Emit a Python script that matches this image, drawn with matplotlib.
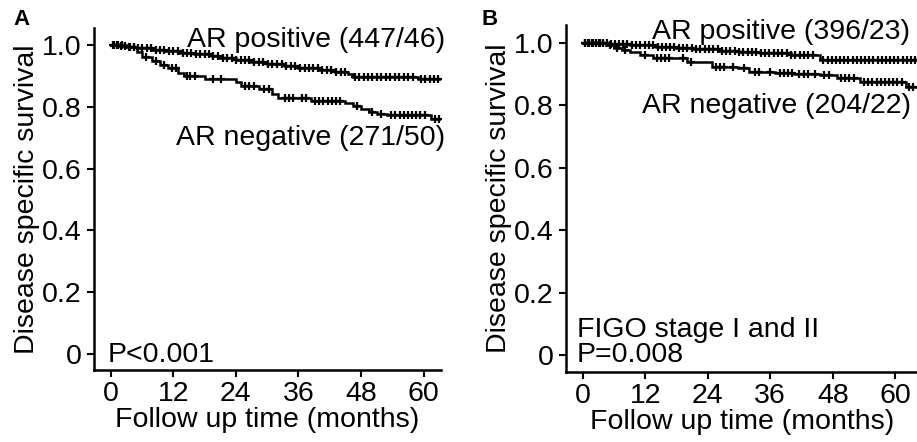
import matplotlib
matplotlib.use("Agg")
import matplotlib.pyplot as plt

plt.rcParams['font.family'] = ['Liberation Sans', 'DejaVu Sans']

# ---- Panel A data (Kaplan-Meier step curves) ----
a_pos_t = [0, 1.5, 3.5, 5, 8, 10.5, 13, 16, 19.5, 21, 24, 27, 30, 33.5, 36, 40, 43, 45.5, 46.5, 59, 63.3]
a_pos_s = [1.0, 0.997, 0.993, 0.989, 0.985, 0.980, 0.975, 0.970, 0.964, 0.957, 0.951, 0.945,
           0.938, 0.931, 0.925, 0.919, 0.914, 0.905, 0.895, 0.889, 0.889]
a_pos_cens = [0.5, 1.2, 2.0, 2.8, 3.6, 4.4, 5.3, 6.1, 7.0, 7.8, 8.7, 9.5, 10.3, 11.2, 12.0, 12.9,
              13.8, 14.6, 15.5, 16.3, 17.2, 18.0, 18.8, 19.7, 20.6, 21.5, 22.3, 23.2, 24.1, 25.0,
              25.8, 26.6, 27.5, 28.4, 29.3, 30.1, 31.0, 31.9, 32.8, 33.7, 34.5, 35.4, 36.3, 37.2,
              38.0, 38.9, 39.8, 40.6, 41.5, 42.3, 43.2, 44.1, 45.0, 46.8, 47.7, 48.5, 49.4, 50.2,
              51.1, 51.9, 52.8, 53.6, 54.5, 55.3, 56.2, 57.0, 57.9, 59.5, 60.3, 61.2, 62.0, 62.8]

a_neg_t = [0, 3, 5, 6, 8, 9.5, 11, 13, 14, 18, 24, 25, 28.5, 31, 32, 38.5, 45, 46.5, 48, 49.5, 51, 53,
           61.5, 63.3]
a_neg_s = [1.0, 0.993, 0.978, 0.960, 0.948, 0.936, 0.925, 0.910, 0.898, 0.890, 0.880, 0.867, 0.858,
           0.840, 0.827, 0.818, 0.811, 0.803, 0.793, 0.782, 0.777, 0.772, 0.762, 0.762]
a_neg_cens = [0.6, 1.4, 2.2, 3.8, 4.5, 6.8, 8.6, 10.2, 11.8, 12.5, 14.6, 15.3, 16.2, 19.6, 21.2,
              25.8, 26.6, 27.4, 29.5, 30.3, 33.4, 34.2, 35.0, 36.6, 37.4, 39.2, 40.0, 40.8, 41.6,
              42.4, 43.2, 44.0, 47.2, 50.2, 51.8, 53.8, 54.6, 55.4, 56.2, 57.0, 57.8, 58.6, 59.4,
              60.2, 62.2, 63.0]

# ---- Panel B data ----
b_pos_t = [0, 5, 9, 14, 18, 21, 26, 30, 34, 40, 45.5, 64.5]
b_pos_s = [1.0, 0.996, 0.992, 0.987, 0.983, 0.979, 0.975, 0.971, 0.966, 0.961, 0.946, 0.946]
b_pos_cens = [0.4, 1.1, 1.8, 2.5, 3.2, 3.9, 4.6, 5.4, 6.2, 7.0, 7.8, 8.6, 9.5, 10.3, 11.1, 11.9, 12.7,
              13.5, 14.4, 15.2, 16.0, 16.8, 17.6, 18.4, 19.3, 20.1, 20.9, 21.8, 22.6, 23.4, 24.2,
              25.0, 25.9, 26.7, 27.5, 28.3, 29.2, 30.0, 30.8, 31.7, 32.5, 33.3, 34.2, 35.0, 35.8,
              36.7, 37.5, 38.3, 39.2, 40.0, 40.8, 41.7, 42.5, 43.3, 44.2, 46.2, 47.0, 47.8, 48.6,
              49.4, 50.2, 51.0, 51.8, 52.6, 53.4, 54.2, 55.0, 55.8, 56.6, 57.4, 58.2, 59.0, 59.8,
              60.6, 61.4, 62.2, 63.0, 63.8]

b_neg_t = [0, 4.5, 6, 7.5, 9, 11, 13.5, 20, 24.8, 29.8, 32, 37, 40.5, 45.5, 48.8, 53.2, 62, 64.5]
b_neg_s = [1.0, 0.993, 0.985, 0.978, 0.971, 0.960, 0.950, 0.937, 0.923, 0.918, 0.907, 0.903, 0.901,
           0.897, 0.886, 0.875, 0.860, 0.860]
b_neg_cens = [0.5, 1.2, 1.9, 2.6, 3.3, 4.0, 5.2, 6.6, 8.2, 12.0, 14.2, 15.0, 15.8, 16.6, 19.2, 20.8,
              25.6, 26.4, 27.2, 28.8, 31.0, 33.0, 33.8, 36.0, 37.8, 38.6, 39.4, 40.2, 41.6, 42.4,
              43.2, 44.6, 46.4, 47.2, 49.6, 50.4, 51.2, 52.0, 54.0, 54.8, 55.6, 56.4, 57.2, 58.0,
              58.8, 59.6, 60.4, 61.2, 62.6, 63.4]

x_ticks = [0, 12, 24, 36, 48, 60]
y_ticks = [0, 0.2, 0.4, 0.6, 0.8, 1.0]
y_ticklabels = ['0', '0.2', '0.4', '0.6', '0.8', '1.0']

FS = 20.5
fig = plt.figure(figsize=(9.17, 4.42), dpi=100)

axA = fig.add_axes([0.1025, 0.1629, 0.4806 - 0.1025, 0.9367 - 0.1629])
axB = fig.add_axes([0.6172, 0.159, 1.0019 - 0.6172, 0.9434 - 0.159])


def km_value(ts, ss, t):
    v = ss[0]
    for ti, si in zip(ts, ss):
        if ti <= t:
            v = si
    return v


def draw_curve(ax, ts, ss, cens):
    ax.step(ts, ss, where='post', color='black', lw=1.8, solid_joinstyle='miter')
    cy = [km_value(ts, ss, c) for c in cens]
    ax.plot(cens, cy, ls='none', marker='+', ms=5.5, mew=1.6, color='black')


def style(ax, xlim, ylim):
    ax.set_xlim(*xlim)
    ax.set_ylim(*ylim)
    for s in ['top', 'right']:
        ax.spines[s].set_visible(False)
    for s in ['left', 'bottom']:
        ax.spines[s].set_linewidth(1.8)
    ax.set_xticks(x_ticks)
    ax.set_yticks(y_ticks)
    ax.set_yticklabels(y_ticklabels)
    ax.tick_params(axis='both', direction='out', length=5, width=1.5, labelsize=FS)
    ax.tick_params(axis='y', pad=4)
    ax.tick_params(axis='x', pad=3)
    ax.set_xlabel('Follow up time (months)', fontsize=FS, labelpad=0)
    ax.set_ylabel('Disease specific survival', fontsize=FS, labelpad=1)


draw_curve(axA, a_pos_t, a_pos_s, a_pos_cens)
draw_curve(axA, a_neg_t, a_neg_s, a_neg_cens)
style(axA, (-3.2, 63.3), (-0.052, 1.055))
axA.text(64.2, 0.9935, 'AR positive (447/46)', ha='right', va='baseline', fontsize=FS, clip_on=False)
axA.text(64.2, 0.676, 'AR negative (271/50)', ha='right', va='baseline', fontsize=FS, clip_on=False)
axA.text(-0.5, -0.026, 'P<0.001', ha='left', va='baseline', fontsize=FS)

draw_curve(axB, b_pos_t, b_pos_s, b_pos_cens)
draw_curve(axB, b_neg_t, b_neg_s, b_neg_cens)
style(axB, (-3.2, 64.5), (-0.053, 1.057))
axB.text(13.4, 1.012, 'AR positive (396/23)', ha='left', va='baseline', fontsize=FS, clip_on=False)
axB.text(11.4, 0.775, 'AR negative (204/22)', ha='left', va='baseline', fontsize=FS, clip_on=False)
axB.text(-1.1, 0.058, 'FIGO stage I and II', ha='left', va='baseline', fontsize=FS)
axB.text(-1.1, -0.022, 'P=0.008', ha='left', va='baseline', fontsize=FS)

fig.text(0.0142, 0.9434, 'A', fontsize=16, fontweight='bold', ha='left', va='baseline')
fig.text(0.5256, 0.9434, 'B', fontsize=16, fontweight='bold', ha='left', va='baseline')

fig.savefig('out.png', dpi=100)
